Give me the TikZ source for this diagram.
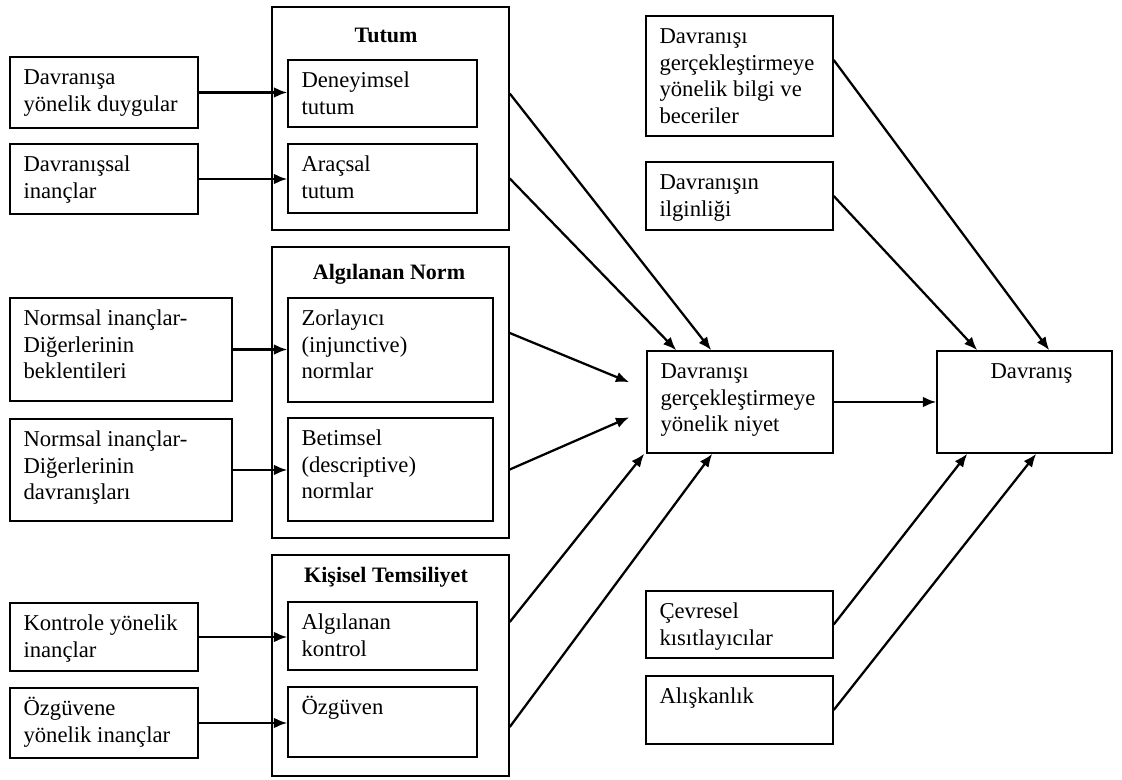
\documentclass[tikz,border=0pt]{standalone}
\usepackage{fontspec}
\setmainfont{Liberation Serif}
\usetikzlibrary{arrows.meta,fit,calc}

% strut that fixes the height of the first text line
\newcommand\fst{\rule{0pt}{15pt}}
% framed box given by two corners, with its text set at the top left
\newcommand\drawbox[6]{%
  \node[box, fit={(#2,#3) (#4,#5)}] (#1) {};
  \node[txt, anchor=north west] (#1-t) at ([shift={(14,8)}]#1.north west) {\fst #6};
}

\begin{document}
\begin{tikzpicture}[x=0.75pt,y=-0.75pt,
  box/.style={draw, line width=1.1pt, inner sep=0pt},
  txt/.style={inner sep=0pt, align=left, font=\fontsize{17}{20}\selectfont},
  hdr/.style={inner sep=0pt, font=\fontsize{16.5}{20}\selectfont\bfseries},
  arr/.style={line width=1.7pt, -{Latex[length=10pt,width=8pt]}},
]
\useasboundingbox (0,0) rectangle (1122,780);

% groups
\node[box, fit={(272,7) (509,230)}] (tutum) {};
\node[box, fit={(272,247) (509,538)}] (norm) {};
\node[box, fit={(272,555) (509,776)}] (kisisel) {};
\node[hdr] (tutum-h) at (386,35) {Tutum};
\node[hdr] (norm-h) at (389,274) {Algılanan Norm};
\node[hdr] (kisisel-h) at (386,577) {Kişisel Temsiliyet};

% inner boxes
\drawbox{den}{288}{60}{477}{127}{Deneyimsel\\tutum}
\drawbox{ara}{288}{144}{477}{213}{Araçsal\\tutum}
\drawbox{zor}{288}{298}{493}{402}{Zorlayıcı\\(injunctive)\\normlar}
\drawbox{bet}{288}{418}{493}{521}{Betimsel\\(descriptive)\\normlar}
\drawbox{kon}{288}{602}{477}{670}{Algılanan\\kontrol}
\drawbox{ozg}{288}{687}{477}{757}{Özgüven}

% left sources
\drawbox{duy}{10}{57}{198}{128}{Davranışa\\yönelik duygular}
\drawbox{inan}{10}{144}{198}{214}{Davranışsal\\inançlar}
\drawbox{bek}{10}{298}{232}{401}{Normsal inançlar-\\Diğerlerinin\\beklentileri}
\drawbox{dvr}{10}{419}{232}{521}{Normsal inançlar-\\Diğerlerinin\\davranışları}
\drawbox{kin}{10}{603}{198}{671}{Kontrole yönelik\\inançlar}
\drawbox{oin}{10}{688}{198}{758}{Özgüvene\\yönelik inançlar}

% intention and behaviour
\drawbox{niyet}{647}{351}{833}{453}{Davranışı\\gerçekleştirmeye\\yönelik niyet}
\node[box, fit={(937,351) (1112,453)}] (dav) {};
\node[txt, anchor=north] (dav-t) at ([shift={(7,8)}]dav.north) {\fst Davranış};

% right sources
\drawbox{bilgi}{646}{16}{833}{136}{Davranışı\\gerçekleştirmeye\\yönelik bilgi ve\\beceriler}
\drawbox{ilgi}{646}{162}{833}{230}{Davranışın\\ilginliği}
\drawbox{cevre}{646}{591}{833}{658}{Çevresel\\kısıtlayıcılar}
\drawbox{alis}{646}{676}{833}{744}{Alışkanlık}

% connector ends
\coordinate (s-t1) at (tutum.east |- den.east);
\coordinate (s-t2) at (tutum.east |- ara.east);
\coordinate (s-n1) at ([shift={(0,-17)}]norm.east |- zor.east);
\coordinate (s-n2) at (norm.east |- bet.east);
\coordinate (s-k1) at ([shift={(0,-14)}]kisisel.east |- kon.east);
\coordinate (s-k2) at ([shift={(0,5)}]kisisel.east |- ozg.east);
\coordinate (s-b) at ([shift={(0,-16)}]bilgi.east);
\coordinate (e-t1) at ([shift={(65,0)}]niyet.north west);
\coordinate (e-t2) at ([shift={(30,0)}]niyet.north west);
\coordinate (e-n1) at ([shift={(-17,32)}]niyet.north west);
\coordinate (e-n2) at ([shift={(-17,67)}]niyet.north west);
\coordinate (e-k1) at ([shift={(-2,0)}]niyet.south west);
\coordinate (e-k2) at ([shift={(66,0)}]niyet.south west);
\coordinate (e-b) at ([shift={(113,0)}]dav.north west);
\coordinate (e-i) at ([shift={(41,0)}]dav.north west);
\coordinate (e-c) at ([shift={(31,0)}]dav.south west);
\coordinate (e-a) at ([shift={(100,0)}]dav.south west);

% connectors
\draw[arr] (duy.east) -- (duy.east -| den.west);
\draw[arr] (inan.east) -- (inan.east -| ara.west);
\draw[arr] (bek.east) -- (bek.east -| zor.west);
\draw[arr] (dvr.east) -- (dvr.east -| bet.west);
\draw[arr] (kin.east) -- (kin.east -| kon.west);
\draw[arr] (oin.east) -- (oin.east -| ozg.west);

\draw[arr] (s-t1) -- (e-t1);
\draw[arr] (s-t2) -- (e-t2);
\draw[arr] (s-n1) -- (e-n1);
\draw[arr] (s-n2) -- (e-n2);
\draw[arr] (s-k1) -- (e-k1);
\draw[arr] (s-k2) -- (e-k2);

\draw[arr] (niyet.east) -- (niyet.east -| dav.west);
\draw[arr] (s-b) -- (e-b);
\draw[arr] (ilgi.east) -- (e-i);
\draw[arr] (cevre.east) -- (e-c);
\draw[arr] (alis.east) -- (e-a);
\end{tikzpicture}
\end{document}
